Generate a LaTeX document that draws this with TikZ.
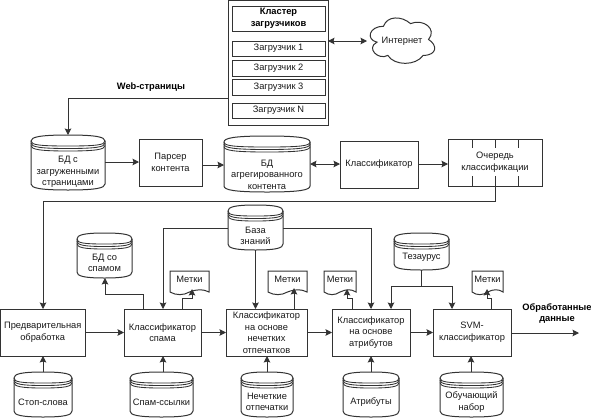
\documentclass[tikz,border=0pt]{standalone}
\usepackage{fontspec}
\setmainfont{Liberation Sans}
\usetikzlibrary{arrows.meta}
\tikzset{
  txt/.style={font=\fontsize{9.3}{11.6}\selectfont,align=center,text=black!90,inner sep=0pt},
  btxt/.style={font=\fontsize{9.3}{11.6}\selectfont\bfseries,align=center,text=black,inner sep=0pt},
  ln/.style={draw=black!80,line width=1pt},
  arr/.style={ln,-{Stealth[length=6.5pt,width=6.5pt,inset=1pt]}},
  darr/.style={ln,{Stealth[length=6.5pt,width=6.5pt,inset=1pt]}-{Stealth[length=6.5pt,width=6.5pt,inset=1pt]}},
  blk/.style={ln,fill=white,inner sep=0pt,outer sep=0pt},
}
\newcommand{\nbox}[6][txt]{%
  \pgfmathsetmacro{\cxx}{(#3+#5)/2}\pgfmathsetmacro{\cyy}{(#4+#6)/2}
  \pgfmathsetmacro{\wdd}{#5-#3}\pgfmathsetmacro{\htt}{#6-#4}
  \node[blk,#1,minimum width=\wdd pt,minimum height=\htt pt] (#2) at (\cxx,\cyy)}
\newcommand{\cyl}[7]{% name,x1,y1,x2,y2,text offset,text
  \pgfmathsetmacro{\cxx}{(#2+#4)/2}\pgfmathsetmacro{\cyy}{(#3+#5)/2}
  \pgfmathsetmacro{\wdd}{#4-#2}\pgfmathsetmacro{\htt}{#5-#3}
  \pgfmathsetmacro{\tyy}{\cyy+#6}
  \pgfmathsetmacro{\kc}{#3+6}\pgfmathsetmacro{\kd}{#5-6}
  \pgfmathsetmacro{\ke}{#3+8}
  \pgfmathsetmacro{\qa}{#2+(#4-#2)*0.12}\pgfmathsetmacro{\qb}{#4-(#4-#2)*0.12}
  \path[ln,fill=white] (#2,\kc) .. controls (#2,#3+2) and (\qa,#3) .. (\cxx,#3) .. controls (\qb,#3) and (#4,#3+2) .. (#4,\kc)
     -- (#4,\kd) .. controls (#4,#5-2) and (\qb,#5) .. (\cxx,#5) .. controls (\qa,#5) and (#2,#5-2) .. (#2,\kd) -- cycle;
  \draw[ln,line width=.85pt] (#2,\kc) .. controls (#2,\kc+4) and (\qa,\kc+5) .. (\cxx,\kc+5) .. controls (\qb,\kc+5) and (#4,\kc+4) .. (#4,\kc);
  \draw[ln,line width=.85pt] (#2,\ke) .. controls (#2,\ke+4) and (\qa,\ke+5.5) .. (\cxx,\ke+5.5) .. controls (\qb,\ke+5.5) and (#4,\ke+4) .. (#4,\ke);
  \draw[ln,line width=.85pt] (#2,\ke+2.5) .. controls (#2,\ke+6.5) and (\qa,\ke+8) .. (\cxx,\ke+8) .. controls (\qb,\ke+8) and (#4,\ke+6.5) .. (#4,\ke+2.5);
  \node[minimum width=\wdd pt,minimum height=\htt pt,inner sep=0pt,outer sep=0pt] (#1) at (\cxx,\cyy) {};
  \node[txt] (#1-t) at (\cxx,\tyy) {#7};
}
\newcommand{\doc}[6]{% name,x1,y1,x2,y2,text
  \pgfmathsetmacro{\cxx}{(#2+#4)/2}\pgfmathsetmacro{\cyy}{(#3+#5)/2}
  \pgfmathsetmacro{\wdd}{#4-#2}\pgfmathsetmacro{\htt}{#5-#3}
  \pgfmathsetmacro{\tq}{(#4-#2)}
  \draw[ln,fill=white] (#2,#3) -- (#4,#3) -- (#4,#5-2)
    .. controls (#2+.85*\tq,#5-5) and (#2+.7*\tq,#5-5) .. (#2+.5*\tq,#5-2)
    .. controls (#2+.35*\tq,#5+1.5) and (#2+.15*\tq,#5+1.5) .. (#2,#5-2) -- cycle;
  \node[minimum width=\wdd pt,minimum height=\htt pt,inner sep=0pt,outer sep=0pt] (#1) at (\cxx,\cyy) {};
  \node[txt] (#1-t) at (\cxx,#3+8.5) {#6};
}
\begin{document}
\begin{tikzpicture}[x=1pt,y=-1pt]
\useasboundingbox (0,0) rectangle (591,418);
\fill[white] (0,0) rectangle (591,418);
% cluster
\nbox{cl}{228}{0}{328}{125}{};\relax
\nbox[btxt]{title}{232}{6}{325}{31}{Кластер\\загрузчиков};
\nbox{l1}{232}{41}{325}{56}{Загрузчик 1};
\nbox{l2}{232}{60}{325}{76}{Загрузчик 2};
\nbox{l3}{232}{79}{325}{95}{Загрузчик 3};
\nbox{ln}{232}{103}{325}{118}{Загрузчик N};
% cloud
\begin{scope}[shift={(365.5,13)},x=72pt,y=-53pt]
\draw[ln,fill=white] (.25,.25) .. controls (.05,.25) and (0,.5) .. (.16,.55)
  .. controls (0,.66) and (.18,.9) .. (.31,.8)
  .. controls (.4,1) and (.7,1) .. (.8,.8)
  .. controls (1,.8) and (1,.6) .. (.875,.5)
  .. controls (1,.3) and (.8,.1) .. (.625,.2)
  .. controls (.5,.05) and (.3,.05) .. (.25,.25) -- cycle;
\end{scope}
\node[txt] (net) at (402,41) {Интернет};
\coordinate (netp) at (367,41);
\node[btxt] (web) at (151,87) {Web-страницы};
% top row
\cyl{c1}{31}{135}{105}{190}{9.5}{БД с\\загруженными\\страницами}
\nbox{parser}{139}{139}{202}{186}{Парсер\\контента};
\cyl{c2}{224}{136}{310}{192}{10.5}{БД\\агрегированного\\контента}
\nbox{clf}{340}{141}{418}{188}{Классификатор};
\nbox{queue}{448}{139}{542}{186}{Очередь\\классификации};
\foreach \q in {472,495,518}{\draw[ln] (\q,139) -- (\q,148); \draw[ln] (\q,176) -- (\q,186);}
% bottom row
\nbox{pre}{0.5}{309}{85}{356}{Предварительная\\обработка};
\nbox{spam}{124}{309}{201}{356}{Классификатор\\спама};
\nbox{fuzzy}{226}{309}{307}{356}{Классификатор\\на основе\\нечетких\\отпечатков};
\nbox{attr}{332}{309}{410}{356}{Классификатор\\на основе\\атрибутов};
\nbox{svm}{433}{309}{511}{356}{SVM-\\классификатор};
\node[btxt] (res) at (557,313.5) {Обработанные\\данные};
% stores
\cyl{kb}{228}{205}{283}{250}{8.5}{База\\знаний}
\cyl{sdb}{77}{233}{132}{278}{7.5}{БД со\\спамом}
\cyl{thes}{394}{233}{449}{270}{5.5}{Тезаурус}
\cyl{stop}{14}{372}{72}{417}{7.5}{Стоп-слова}
\cyl{links}{130}{372}{193}{417}{7.5}{Спам-ссылки}
\cyl{fp}{241}{372}{293}{417}{7.5}{Нечеткие\\отпечатки}
\cyl{attrs}{343}{372}{399}{417}{7.5}{Атрибуты}
\cyl{train}{440}{372}{503}{417}{7.5}{Обучающий\\набор}
% labels
\doc{m1}{170}{271}{209}{294}{Метки}
\doc{m2}{268}{271}{307}{294}{Метки}
\doc{m3}{324}{271}{356}{294}{Метки}
\doc{m4}{472}{271}{503}{294}{Метки}
% connectors
\draw[darr] (cl.east |- netp) -- (netp);
\draw[arr] (cl.west |- 0,98) -| (c1.north);
\draw[arr] (c1.east |- 0,162) -- (parser.west |- 0,162);
\draw[arr] (parser.east |- 0,165) -- (c2.west |- 0,165);
\draw[darr] (c2.east |- 0,164) -- (clf.west |- 0,164);
\draw[arr] (clf.east |- 0,164) -- (queue.west |- 0,164);
\draw[arr] (queue.south) -- (queue.south |- 0,201) -| (43,309);
\draw[arr] (pre.east) -- (spam.west);
\draw[arr] (spam.east) -- (fuzzy.west);
\draw[arr] (fuzzy.east) -- (attr.west);
\draw[arr] (attr.east) -- (svm.west);
\coordinate (out) at (579,333);
\draw[arr] (svm.east |- out) -- (out);
\draw[arr] (kb.west |- 0,228) -| (163,309);
\draw[arr] (kb.east |- 0,228) -| (371,309);
\draw[arr] (kb.south) -- (kb.south |- fuzzy.north);
\draw[arr] (143,309) |- (105,294) -- (105,278);
\draw[arr] (182,309) |- (192,298) -- (192,289);
\draw[arr] (294,309) -- (294,288);
\draw[arr] (352,309) |- (347,298) -- (347,289);
\draw[arr] (491,309) |- (487,298) -- (487,289);
\draw[ln] (thes.south) -- (thes.south |- 0,286);
\draw[arr] (thes.south |- 0,286) -| (391,309);
\draw[arr] (thes.south |- 0,286) -| (452,309);
\draw[arr] (43,372) -- (43,356);
\draw[arr] (163,372) -- (163,356);
\draw[arr] (267,372) -- (267,356);
\draw[arr] (371,372) -- (371,356);
\draw[arr] (471,372) -- (471,356);
\end{tikzpicture}
\end{document}
